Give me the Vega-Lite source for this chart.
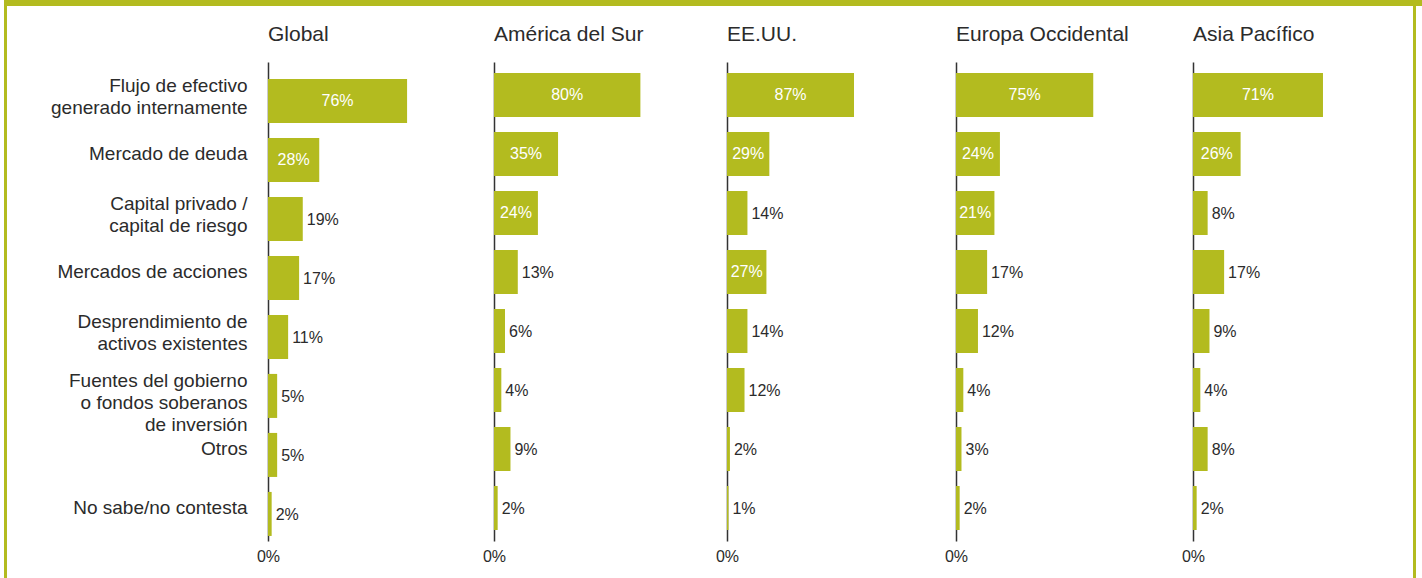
{
  "$schema": "https://vega.github.io/schema/vega-lite/v6.json",
  "padding": {"left": 4, "top": 0, "right": 0, "bottom": 0},
  "background": "white",
  "config": {
    "view": {"stroke": null},
    "font": "Liberation Sans",
    "title": {"anchor": "start", "frame": "group", "fontSize": 21, "fontWeight": "normal", "color": "#2b2b2b", "offset": 17},
    "axisX": {"domain": false, "ticks": false, "grid": false, "title": null, "labelFontSize": 16, "labelPadding": 7, "labelColor": "#2b2b2b", "labelFlush": false},
    "axisY": {"ticks": false, "grid": false, "title": null, "domainColor": "#333333", "domainWidth": 1.5, "zindex": 1}
  },
  "datasets": {
    "d": [
      {"region": "Global", "cat": "Flujo de efectivo|generado internamente", "v": 0.76},
      {"region": "Global", "cat": "Mercado de deuda", "v": 0.28},
      {"region": "Global", "cat": "Capital privado /|capital de riesgo", "v": 0.19},
      {"region": "Global", "cat": "Mercados de acciones", "v": 0.17},
      {"region": "Global", "cat": "Desprendimiento de|activos existentes", "v": 0.11},
      {"region": "Global", "cat": "Fuentes del gobierno|o fondos soberanos|de inversión ", "v": 0.05},
      {"region": "Global", "cat": "Otros", "v": 0.05},
      {"region": "Global", "cat": "No sabe/no contesta", "v": 0.02},
      {"region": "AmSur", "cat": "Flujo de efectivo|generado internamente", "v": 0.80},
      {"region": "AmSur", "cat": "Mercado de deuda", "v": 0.35},
      {"region": "AmSur", "cat": "Capital privado /|capital de riesgo", "v": 0.24},
      {"region": "AmSur", "cat": "Mercados de acciones", "v": 0.13},
      {"region": "AmSur", "cat": "Desprendimiento de|activos existentes", "v": 0.06},
      {"region": "AmSur", "cat": "Fuentes del gobierno|o fondos soberanos|de inversión ", "v": 0.04},
      {"region": "AmSur", "cat": "Otros", "v": 0.09},
      {"region": "AmSur", "cat": "No sabe/no contesta", "v": 0.02},
      {"region": "EEUU", "cat": "Flujo de efectivo|generado internamente", "v": 0.87},
      {"region": "EEUU", "cat": "Mercado de deuda", "v": 0.29},
      {"region": "EEUU", "cat": "Capital privado /|capital de riesgo", "v": 0.14},
      {"region": "EEUU", "cat": "Mercados de acciones", "v": 0.27},
      {"region": "EEUU", "cat": "Desprendimiento de|activos existentes", "v": 0.14},
      {"region": "EEUU", "cat": "Fuentes del gobierno|o fondos soberanos|de inversión ", "v": 0.12},
      {"region": "EEUU", "cat": "Otros", "v": 0.02},
      {"region": "EEUU", "cat": "No sabe/no contesta", "v": 0.01},
      {"region": "Europa", "cat": "Flujo de efectivo|generado internamente", "v": 0.75},
      {"region": "Europa", "cat": "Mercado de deuda", "v": 0.24},
      {"region": "Europa", "cat": "Capital privado /|capital de riesgo", "v": 0.21},
      {"region": "Europa", "cat": "Mercados de acciones", "v": 0.17},
      {"region": "Europa", "cat": "Desprendimiento de|activos existentes", "v": 0.12},
      {"region": "Europa", "cat": "Fuentes del gobierno|o fondos soberanos|de inversión ", "v": 0.04},
      {"region": "Europa", "cat": "Otros", "v": 0.03},
      {"region": "Europa", "cat": "No sabe/no contesta", "v": 0.02},
      {"region": "Asia", "cat": "Flujo de efectivo|generado internamente", "v": 0.71},
      {"region": "Asia", "cat": "Mercado de deuda", "v": 0.26},
      {"region": "Asia", "cat": "Capital privado /|capital de riesgo", "v": 0.08},
      {"region": "Asia", "cat": "Mercados de acciones", "v": 0.17},
      {"region": "Asia", "cat": "Desprendimiento de|activos existentes", "v": 0.09},
      {"region": "Asia", "cat": "Fuentes del gobierno|o fondos soberanos|de inversión ", "v": 0.04},
      {"region": "Asia", "cat": "Otros", "v": 0.08},
      {"region": "Asia", "cat": "No sabe/no contesta", "v": 0.02}
    ]
  },
  "spacing": 0,
  "vconcat": [
    {"width": 1418, "height": 6, "view": {"fill": "#b3bb1f"}, "data": {"values": []}, "mark": "rect"},
    {
      "spacing": 0,
      "hconcat": [
        {"width": 3, "height": 572, "view": {"fill": "#b3bb1f"}, "data": {"values": []}, "mark": "rect"},
        {
          "spacing": 0,
          "vconcat": [
            {"width": 1, "height": 18, "view": {"fill": "white"}, "data": {"values": []}, "mark": "rect"},
            {
              "spacing": 0,
              "hconcat": [
                {
                  "width": 213.5, "height": 479,
                  "title": "Global",
                  "data": {"name": "d"},
                  "transform": [{"filter": "datum.region === 'Global'"}],
                  "encoding": {
                    "y": {"field": "cat", "type": "nominal", "sort": null,
                      "scale": {"paddingInner": 0.254, "paddingOuter": 0.186, "align": 0.77},
                      "axis": {"labelExpr": "split(datum.label, '|')", "labelFontSize": 19, "labelLineHeight": 22, "labelColor": "#2b2b2b", "labelPadding": 21, "labelLimit": 400, "minExtent": 261, "maxExtent": 261,
                        "labelOffset": {"condition": {"test": "indexof(datum.label, '|') >= 0", "value": -15}, "value": -6}}}
                  },
                  "resolve": {"scale": {"x": "independent"}},
                  "layer": [
                    {"mark": {"type": "bar", "color": "#b3bb1f"},
                     "encoding": {"x": {"field": "v", "type": "quantitative", "scale": {"domain": [0, 1.1667], "nice": false}, "axis": {"values": [0], "format": ".0%"}}}},
                    {"transform": [{"filter": "datum.v >= 0.2"}],
                     "mark": {"type": "text", "color": "white", "fontSize": 16},
                     "encoding": {"x": {"field": "v", "type": "quantitative", "scale": {"domain": [0, 2.3334], "nice": false}, "axis": null}, "text": {"field": "v", "format": ".0%"}}},
                    {"transform": [{"filter": "datum.v < 0.2"}],
                     "mark": {"type": "text", "align": "left", "dx": 4, "dy": 1, "color": "#2b2b2b", "fontSize": 16},
                     "encoding": {"x": {"field": "v", "type": "quantitative", "scale": {"domain": [0, 1.1667], "nice": false}, "axis": null}, "text": {"field": "v", "format": ".0%"}}}
                  ]
                },
                {
                  "width": 220.5, "height": 479,
                  "title": "América del Sur",
                  "data": {"name": "d"},
                  "transform": [{"filter": "datum.region === 'AmSur'"}],
                  "encoding": {
                    "y": {"field": "cat", "type": "nominal", "sort": null,
                      "scale": {"paddingInner": 0.254, "paddingOuter": 0.186},
                      "axis": {"labels": false, "minExtent": 0, "maxExtent": 0}}
                  },
                  "resolve": {"scale": {"x": "independent"}},
                  "layer": [
                    {"mark": {"type": "bar", "color": "#b3bb1f"},
                     "encoding": {"x": {"field": "v", "type": "quantitative", "scale": {"domain": [0, 1.205], "nice": false}, "axis": {"values": [0], "format": ".0%"}}}},
                    {"transform": [{"filter": "datum.v >= 0.2"}],
                     "mark": {"type": "text", "color": "white", "fontSize": 16},
                     "encoding": {"x": {"field": "v", "type": "quantitative", "scale": {"domain": [0, 2.41], "nice": false}, "axis": null}, "text": {"field": "v", "format": ".0%"}}},
                    {"transform": [{"filter": "datum.v < 0.2"}],
                     "mark": {"type": "text", "align": "left", "dx": 4, "dy": 1, "color": "#2b2b2b", "fontSize": 16},
                     "encoding": {"x": {"field": "v", "type": "quantitative", "scale": {"domain": [0, 1.205], "nice": false}, "axis": null}, "text": {"field": "v", "format": ".0%"}}}
                  ]
                },
                {
                  "width": 216.5, "height": 479,
                  "title": "EE.UU.",
                  "data": {"name": "d"},
                  "transform": [{"filter": "datum.region === 'EEUU'"}],
                  "encoding": {
                    "y": {"field": "cat", "type": "nominal", "sort": null,
                      "scale": {"paddingInner": 0.254, "paddingOuter": 0.186},
                      "axis": {"labels": false, "minExtent": 0, "maxExtent": 0}}
                  },
                  "resolve": {"scale": {"x": "independent"}},
                  "layer": [
                    {"mark": {"type": "bar", "color": "#b3bb1f"},
                     "encoding": {"x": {"field": "v", "type": "quantitative", "scale": {"domain": [0, 1.483], "nice": false}, "axis": {"values": [0], "format": ".0%"}}}},
                    {"transform": [{"filter": "datum.v >= 0.2"}],
                     "mark": {"type": "text", "color": "white", "fontSize": 16},
                     "encoding": {"x": {"field": "v", "type": "quantitative", "scale": {"domain": [0, 2.966], "nice": false}, "axis": null}, "text": {"field": "v", "format": ".0%"}}},
                    {"transform": [{"filter": "datum.v < 0.2"}],
                     "mark": {"type": "text", "align": "left", "dx": 4, "dy": 1, "color": "#2b2b2b", "fontSize": 16},
                     "encoding": {"x": {"field": "v", "type": "quantitative", "scale": {"domain": [0, 1.483], "nice": false}, "axis": null}, "text": {"field": "v", "format": ".0%"}}}
                  ]
                },
                {
                  "width": 224.5, "height": 479,
                  "title": "Europa Occidental",
                  "data": {"name": "d"},
                  "transform": [{"filter": "datum.region === 'Europa'"}],
                  "encoding": {
                    "y": {"field": "cat", "type": "nominal", "sort": null,
                      "scale": {"paddingInner": 0.254, "paddingOuter": 0.186},
                      "axis": {"labels": false, "minExtent": 0, "maxExtent": 0}}
                  },
                  "resolve": {"scale": {"x": "independent"}},
                  "layer": [
                    {"mark": {"type": "bar", "color": "#b3bb1f"},
                     "encoding": {"x": {"field": "v", "type": "quantitative", "scale": {"domain": [0, 1.2268], "nice": false}, "axis": {"values": [0], "format": ".0%"}}}},
                    {"transform": [{"filter": "datum.v >= 0.2"}],
                     "mark": {"type": "text", "color": "white", "fontSize": 16},
                     "encoding": {"x": {"field": "v", "type": "quantitative", "scale": {"domain": [0, 2.4536], "nice": false}, "axis": null}, "text": {"field": "v", "format": ".0%"}}},
                    {"transform": [{"filter": "datum.v < 0.2"}],
                     "mark": {"type": "text", "align": "left", "dx": 4, "dy": 1, "color": "#2b2b2b", "fontSize": 16},
                     "encoding": {"x": {"field": "v", "type": "quantitative", "scale": {"domain": [0, 1.2268], "nice": false}, "axis": null}, "text": {"field": "v", "format": ".0%"}}}
                  ]
                },
                {
                  "width": 219.5, "height": 479,
                  "title": "Asia Pacífico",
                  "data": {"name": "d"},
                  "transform": [{"filter": "datum.region === 'Asia'"}],
                  "encoding": {
                    "y": {"field": "cat", "type": "nominal", "sort": null,
                      "scale": {"paddingInner": 0.254, "paddingOuter": 0.186},
                      "axis": {"labels": false, "minExtent": 0, "maxExtent": 0}}
                  },
                  "resolve": {"scale": {"x": "independent"}},
                  "layer": [
                    {"mark": {"type": "bar", "color": "#b3bb1f"},
                     "encoding": {"x": {"field": "v", "type": "quantitative", "scale": {"domain": [0, 1.199], "nice": false}, "axis": {"values": [0], "format": ".0%"}}}},
                    {"transform": [{"filter": "datum.v >= 0.2"}],
                     "mark": {"type": "text", "color": "white", "fontSize": 16},
                     "encoding": {"x": {"field": "v", "type": "quantitative", "scale": {"domain": [0, 2.398], "nice": false}, "axis": null}, "text": {"field": "v", "format": ".0%"}}},
                    {"transform": [{"filter": "datum.v < 0.2"}],
                     "mark": {"type": "text", "align": "left", "dx": 4, "dy": 1, "color": "#2b2b2b", "fontSize": 16},
                     "encoding": {"x": {"field": "v", "type": "quantitative", "scale": {"domain": [0, 1.199], "nice": false}, "axis": null}, "text": {"field": "v", "format": ".0%"}}}
                  ]
                }
              ]
            }
          ]
        },
        {"width": 3, "height": 572, "view": {"fill": "#b3bb1f"}, "data": {"values": []}, "mark": "rect"}
      ]
    }
  ]
}
